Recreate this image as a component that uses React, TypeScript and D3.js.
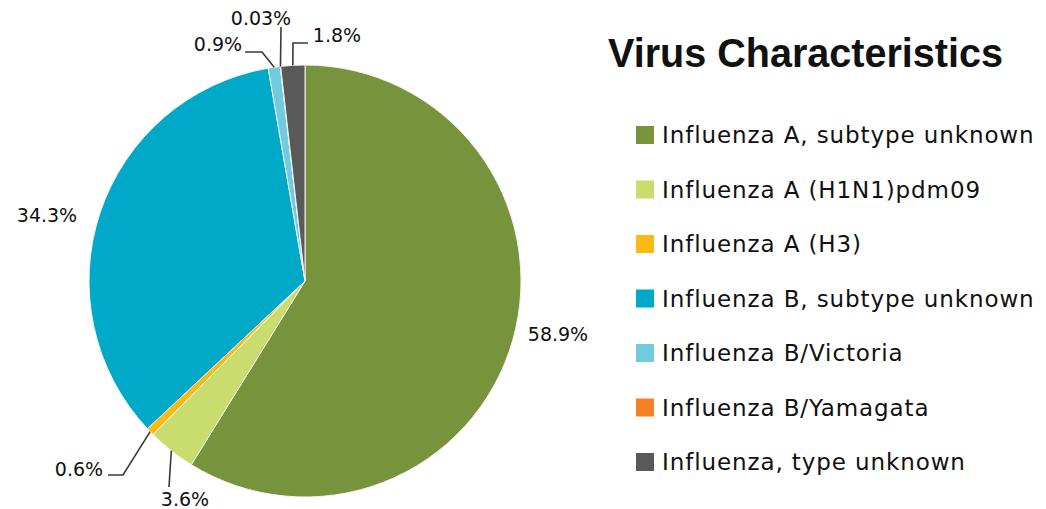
import React from 'react';
import * as d3 from 'd3';

const categories = [
  'Influenza A, subtype unknown',
  'Influenza A (H1N1)pdm09',
  'Influenza A (H3)',
  'Influenza B, subtype unknown',
  'Influenza B/Victoria',
  'Influenza B/Yamagata',
  'Influenza, type unknown',
];
const shares = [58.9, 3.6, 0.6, 34.3, 0.9, 0.03, 1.8];
const sliceColors = ['#77933C', '#C9DC6E', '#FDB913', '#00A9C8', '#6FCBDD', '#F58025', '#595959'];
const title = 'Virus Characteristics';

// label centres and leader-line bends, in page pixels
const labelLayout: { x: number; y: number; leader: [number, number][] }[] = [
  { x: 558, y: 334, leader: [] },
  { x: 185, y: 499, leader: [[169, 487]] },
  { x: 79, y: 469, leader: [[123, 475], [108, 475]] },
  { x: 47, y: 215, leader: [] },
  { x: 218, y: 44, leader: [[262, 52], [245, 52]] },
  { x: 261, y: 18, leader: [[281, 27]] },
  { x: 337, y: 35, leader: [[293, 43], [308, 43]] },
];

const W = 1046;
const H = 509;
const cx = 305;
const cy = 281;
const radius = 216;

export default function App() {
  const pie = d3.pie<number>().sort(null).value(d => d);
  const arcs = pie(shares);
  const arc = d3.arc<d3.PieArcDatum<number>>().innerRadius(0).outerRadius(radius);
  const line = d3.line();

  const legendY = d3.scalePoint<number>()
    .domain(d3.range(categories.length))
    .range([135, 462]);

  return (
    <svg width={W} height={H} style={{ position: 'absolute', left: 0, top: 0, background: '#fff' }}>
      <g transform={`translate(${cx},${cy})`}>
        {arcs.map((a, i) => (
          <path key={i} d={arc(a) || ''} fill={sliceColors[i]} stroke="#f2f2f2" strokeWidth={1} />
        ))}
      </g>

      {/* leader lines */}
      {arcs.map((a, i) => {
        const pts = labelLayout[i].leader;
        if (!pts.length) return null;
        const mid = (a.startAngle + a.endAngle) / 2;
        const start: [number, number] = [cx + radius * Math.sin(mid), cy - radius * Math.cos(mid)];
        return (
          <path key={i} d={line([start, ...pts]) || ''} fill="none" stroke="#3a3a3a" strokeWidth={1.6} />
        );
      })}

      {/* value labels */}
      {shares.map((v, i) => (
        <text
          key={i}
          x={labelLayout[i].x}
          y={labelLayout[i].y + 7}
          textAnchor="middle"
          fontFamily="DejaVu Sans, sans-serif"
          fontSize={19}
          fill="#111"
        >
          {`${v}%`}
        </text>
      ))}

      <text
        x={608}
        y={67}
        fontFamily="Liberation Sans, Arial, sans-serif"
        fontWeight="bold"
        fontSize={40}
        textLength={395}
        lengthAdjust="spacingAndGlyphs"
        fill="#111"
      >
        {title}
      </text>

      {categories.map((c, i) => {
        const y = legendY(i) as number;
        return (
          <g key={c}>
            <rect x={636} y={y - 9} width={18} height={18} fill={sliceColors[i]} />
            <text
              x={662}
              y={y + 8}
              fontFamily="DejaVu Sans, sans-serif"
              fontSize={23}
              letterSpacing={0.9}
              fill="#111"
            >
              {c}
            </text>
          </g>
        );
      })}
    </svg>
  );
}
